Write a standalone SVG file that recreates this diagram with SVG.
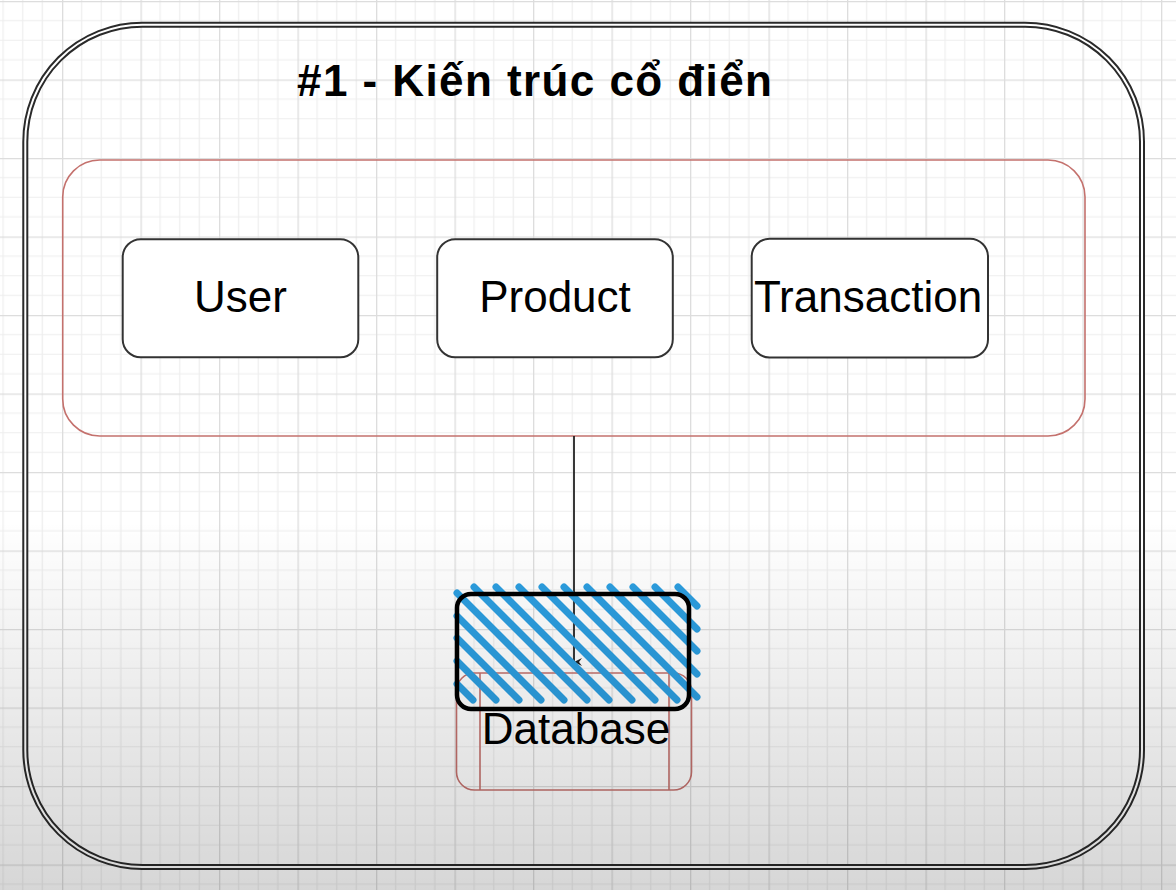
<svg xmlns="http://www.w3.org/2000/svg" width="1176" height="890" viewBox="0 0 1176 890">
<style>
.box{fill:#ffffff;stroke:#333333;stroke-width:2}
.lbl{font-family:"Liberation Sans",Arial,sans-serif;font-size:44px;fill:#000000;text-anchor:middle}
.red{fill:none;stroke:#c4716d;stroke-width:1.6}
.hach{stroke:#2c9ee0;stroke-width:7;stroke-linecap:round;fill:none}
</style>
<defs>
<pattern id="grid" patternUnits="userSpaceOnUse" x="-16.5" y="1" width="78.5" height="78.5">
<rect width="78.5" height="78.5" fill="#ffffff"/>
<path d="M19.625 0V78.5M39.25 0V78.5M58.875 0V78.5M0 19.625H78.5M0 39.25H78.5M0 58.875H78.5" stroke="#eeeeee" stroke-width="1.2" fill="none"/>
<path d="M0.6 0V78.5M0 0.6H78.5" stroke="#dddddd" stroke-width="1.4" fill="none"/>
</pattern>
<linearGradient id="shade" gradientUnits="userSpaceOnUse" x1="0" y1="520" x2="0" y2="890">
<stop offset="0" stop-color="#000000" stop-opacity="0"/>
<stop offset="1" stop-color="#000000" stop-opacity="0.16"/>
</linearGradient>
<marker id="arr" viewBox="0 0 10 10" refX="5" refY="9" markerWidth="10" markerHeight="10" markerUnits="userSpaceOnUse" orient="auto-start-reverse">
<path d="M1 1L5 9L9 1L5 4Z" fill="#222222"/>
</marker>
</defs>
<rect width="1176" height="890" fill="url(#grid)"/>
<g id="frame">
<rect x="25.3" y="24.7" width="1116.7" height="842.3" rx="117" ry="117" fill="none" stroke="#2a2a2a" stroke-width="6"/>
<rect x="25.3" y="24.7" width="1116.7" height="842.3" rx="117" ry="117" fill="none" stroke="#ffffff" stroke-width="2"/>
</g>
<g id="title">
<text x="297" y="96" font-family="'Liberation Sans',Arial,sans-serif" font-size="44" font-weight="bold" textLength="475" lengthAdjust="spacing" fill="#000000">#1 - Kiến trúc cổ điển</text>
</g>
<g id="container">
<rect class="red" x="62.7" y="160" width="1022.3" height="276" rx="37" ry="37"/>
</g>
<g id="user">
<rect class="box" x="122.7" y="239.3" width="235.6" height="118" rx="18" ry="18"/>
<text class="lbl" x="240.5" y="312">User</text>
</g>
<g id="product">
<rect class="box" x="437.2" y="239.3" width="235.6" height="118" rx="18" ry="18"/>
<text class="lbl" x="555" y="312">Product</text>
</g>
<g id="transaction">
<rect class="box" x="751.7" y="238.8" width="236.3" height="118.7" rx="18" ry="18"/>
<text class="lbl" x="868" y="312">Transaction</text>
</g>
<g id="connectors">
<line x1="574" y1="436" x2="574" y2="662" stroke="#222222" stroke-width="1.8" marker-end="url(#arr)"/>
</g>
<g id="database">
<rect class="red" x="456.5" y="673" width="235" height="117" rx="18" ry="18"/>
<line class="red" x1="480" y1="673" x2="480" y2="790"/>
<line class="red" x1="669" y1="673" x2="669" y2="790"/>
<path class="hach" d="M678 587L697 606M655 587L697 629M633 587L697 651M610 587L697 674M587 587L697 697M564 587L677 700M542 587L655 700M519 587L632 700M496 587L609 700M474 587L587 700M457 593L564 700M457 616L541 700M457 638L519 700M457 661L496 700M457 684L473 700"/>
<rect x="457" y="594" width="232" height="115" rx="14" ry="14" fill="none" stroke="#000000" stroke-width="4.5"/>
<text class="lbl" x="576" y="744">Database</text>
</g>
<rect width="1176" height="890" fill="url(#shade)" pointer-events="none"/>
</svg>
